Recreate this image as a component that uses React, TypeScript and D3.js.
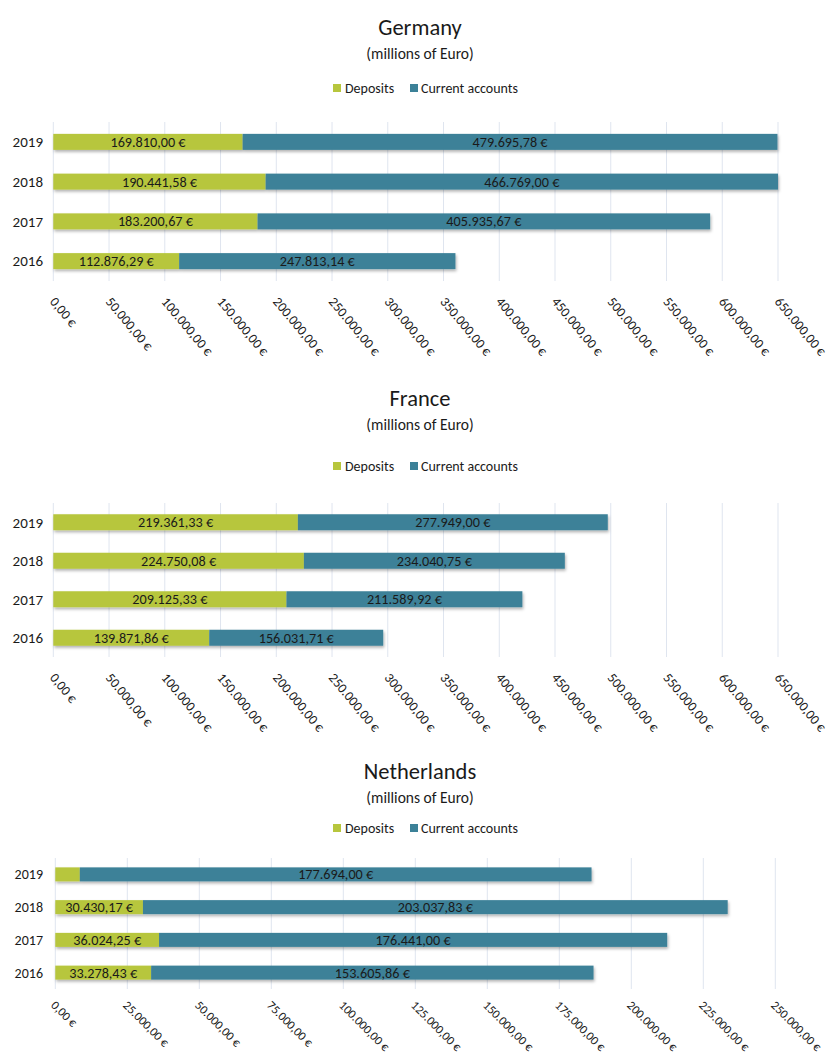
import React from "react";
import * as d3 from "d3";

// Values in millions of euro; rows are listed top to bottom.
const years = ["2019", "2018", "2017", "2016"];

const germanyDeposits = [169810.0, 190441.58, 183200.67, 112876.29];
const germanyCurrent = [479695.78, 466769.0, 405935.67, 247813.14];

const franceDeposits = [219361.33, 224750.08, 209125.33, 139871.86];
const franceCurrent = [277949.0, 234040.75, 211589.92, 156031.71];

const netherlandsDeposits = [8500, 30430.17, 36024.25, 33278.43];
const netherlandsCurrent = [177694.0, 203037.83, 176441.0, 153605.86];

const ticksLarge = [0, 50000, 100000, 150000, 200000, 250000, 300000, 350000, 400000, 450000, 500000, 550000, 600000, 650000];
const ticksSmall = [0, 25000, 50000, 75000, 100000, 125000, 150000, 175000, 200000, 225000, 250000];

const seriesNames = ["Deposits", "Current accounts"];
const colors = ["#b7c63d", "#3c8198"];

const FONT = "Carlito, Lato, 'Open Sans', sans-serif";

const euro = d3.formatLocale({
  decimal: ",",
  thousands: ".",
  grouping: [3],
  currency: ["", " €"],
}).format("$,.2f");

type PanelProps = {
  title: string;
  deposits: number[];
  current: number[];
  ticks: number[];
  titleY: number;
  subtitleY: number;
  legendY: number;
  plotTop: number;
  plotBottom: number;
  left: number;
  right: number;
  barHeight: number;
  yearSize: number;
  tickAngle: number;
  tickSize: number;
  tickDx: number;
  tickDy: number;
};

function Panel(p: PanelProps) {
  const max = p.ticks[p.ticks.length - 1];
  const x = d3.scaleLinear().domain([0, max]).range([p.left, p.right]).clamp(true);
  const y = d3.scaleBand().domain(years).range([p.plotTop, p.plotBottom]);
  const cx = 420;

  return (
    <g>
      <text x={cx} y={p.titleY} textAnchor="middle" fontSize={22.5} fill="#1a1a1a">
        {p.title}
      </text>
      <text x={cx} y={p.subtitleY} textAnchor="middle" fontSize={15.5} fill="#1a1a1a">
        (millions of Euro)
      </text>

      {/* legend */}
      <g fontSize={14} fill="#1a1a1a">
        <rect x={333} y={p.legendY - 4} width={8} height={8} fill={colors[0]} />
        <text x={345} y={p.legendY} dy="0.35em">{seriesNames[0]}</text>
        <rect x={410} y={p.legendY - 4} width={8} height={8} fill={colors[1]} />
        <text x={421} y={p.legendY} dy="0.35em">{seriesNames[1]}</text>
      </g>

      {/* vertical gridlines */}
      {p.ticks.map((t) => (
        <line key={t} x1={x(t)} x2={x(t)} y1={p.plotTop} y2={p.plotBottom} stroke="#dfe5ef" strokeWidth={1} />
      ))}

      {/* stacked bars */}
      {years.map((yr, i) => {
        const yc = (y(yr) as number) + y.bandwidth() / 2;
        const d0 = p.deposits[i];
        const d1 = d0 + p.current[i];
        const xa = x(0), xb = x(d0), xc = x(d1);
        const segs = [
          { x0: xa, x1: xb, v: d0, c: colors[0] },
          { x0: xb, x1: xc, v: p.current[i], c: colors[1] },
        ];
        return (
          <g key={yr}>
            <text x={43} y={yc} dy="0.35em" textAnchor="end" fontSize={p.yearSize} fill="#1a1a1a">
              {yr}
            </text>
            <g filter="url(#barShadow)">
              {segs.map((s, k) => (
                <rect key={k} x={s.x0} y={yc - p.barHeight / 2} width={s.x1 - s.x0} height={p.barHeight} fill={s.c} />
              ))}
            </g>
            {segs.map((s, k) =>
              s.x1 - s.x0 > 60 ? (
                <text key={k} x={(s.x0 + s.x1) / 2} y={yc} dy="0.35em" textAnchor="middle" fontSize={14.2} fill="#1a1a1a">
                  {euro(s.v)}
                </text>
              ) : null
            )}
          </g>
        );
      })}

      {/* rotated tick labels */}
      {p.ticks.map((t) => (
        <text
          key={t}
          transform={`translate(${x(t) + p.tickDx},${p.plotBottom + p.tickDy}) rotate(${p.tickAngle})`}
          fontSize={p.tickSize}
          fill="#1a1a1a"
        >
          {euro(t)}
        </text>
      ))}
    </g>
  );
}

export default function App() {
  return (
    <svg width={835} height={1059} style={{ display: "block", position: "absolute", left: 0, top: 0, background: "#fff" }} fontFamily={FONT}>
      <defs>
        <filter id="barShadow" x="-5%" y="-50%" width="110%" height="200%">
          <feDropShadow dx={1} dy={2} stdDeviation={1.4} floodColor="#000" floodOpacity={0.3} />
        </filter>
      </defs>
      <rect width={835} height={1059} fill="#fff" />
      <Panel
        title="Germany"
        deposits={germanyDeposits}
        current={germanyCurrent}
        ticks={ticksLarge}
        titleY={35}
        subtitleY={59}
        legendY={88}
        plotTop={122}
        plotBottom={281}
        left={53.3}
        right={778}
        barHeight={16}
        yearSize={15}
        tickAngle={50}
        tickSize={13.5}
        tickDx={-4}
        tickDy={21}
      />
      <Panel
        title="France"
        deposits={franceDeposits}
        current={franceCurrent}
        ticks={ticksLarge}
        titleY={406}
        subtitleY={430}
        legendY={466}
        plotTop={503}
        plotBottom={657}
        left={53.3}
        right={778}
        barHeight={16}
        yearSize={15}
        tickAngle={50}
        tickSize={13.5}
        tickDx={-4}
        tickDy={21}
      />
      <Panel
        title="Netherlands"
        deposits={netherlandsDeposits}
        current={netherlandsCurrent}
        ticks={ticksSmall}
        titleY={779}
        subtitleY={803}
        legendY={828}
        plotTop={858}
        plotBottom={989}
        left={55.3}
        right={775.3}
        barHeight={14}
        yearSize={14}
        tickAngle={45}
        tickSize={12.3}
        tickDx={-5}
        tickDy={17}
      />
    </svg>
  );
}
